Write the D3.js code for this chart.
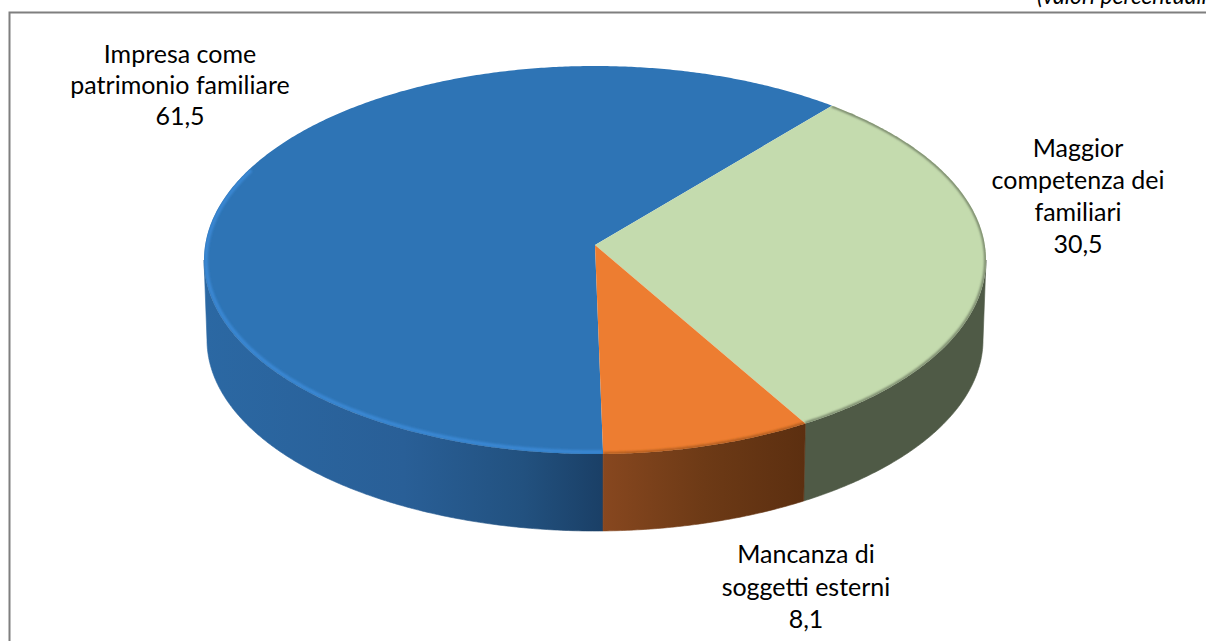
<!DOCTYPE html>
<html><head><meta charset="utf-8">
<script src="https://cdnjs.cloudflare.com/ajax/libs/d3/7.8.5/d3.min.js"></script>
<style>html,body{margin:0;background:#fff;overflow:hidden}svg{display:block}text{font-family:Lato,"Open Sans",sans-serif;fill:#000}</style>
</head><body><svg id="c" width="1206" height="641"></svg>
<script>
const categories = [["Impresa come","patrimonio familiare"],["Maggior","competenza dei","familiari"],["Mancanza di","soggetti esterni"]];
const values = [61.5,30.5,8.1];
const valueLabels = ["61,5","30,5","8,1"];
const unitNote = "(valori percentuali)";
const sliceColors = ["#2e74b5","#c4dbae","#ed7d31"];
const rimColors = ["#3b88d4","#6f7d63","#a9591f"];
const wallStops = [
  [["0","#2b68a3"],["0.5","#295f97"],["0.8","#22517f"],["1","#1a3f66"]],
  [["0","#4f5a46"],["1","#4f5a46"]],
  [["0","#87471f"],["0.5","#6d3a16"],["1","#5c2f10"]]
];
const labelAnchors = [[180,55],[1078,149],[806,555]];
const linePitch = [31,32,32.5];

const svg = d3.select("#c"), defs = svg.append("defs");
const blur = defs.append("filter").attr("id","soft").attr("x","-5%").attr("y","-5%").attr("width","110%").attr("height","110%");
blur.append("feGaussianBlur").attr("stdDeviation",1.1);

// frame
svg.append("path").attr("d","M9.5 641V12.5H1206").attr("fill","none").attr("stroke","#7f7f7f").attr("stroke-width",2);
svg.append("text").attr("x",1037).attr("y",4).attr("font-size",23).attr("font-style","italic").text(unitNote);

// perspective-projected disc: circle angle -> ellipse point
const tilt = -15/194;
const boost = Math.sqrt(1-tilt*tilt);
function project(e,a){
  const u=Math.sin(a), v=-Math.cos(a), d=1+tilt*v;
  return [e.cx+e.rx*u*boost/d, e.cy+e.ry*(v+tilt)/d];
}
const topE={cx:595,cy:260,rx:391,ry:194}, botE={cx:595,cy:340,rx:388,ry:191};
const rad=d3.scaleLinear().domain([0,180]).range([0,Math.PI]);
const pie=d3.pie().sort(null).startAngle(rad(178.9)).endAngle(rad(178.9+360));
const arcs=pie(values);
const line=d3.line();
const samples=(a,b)=>{const n=Math.max(2,Math.ceil(Math.abs(b-a)*120));return d3.range(n+1).map(i=>a+(b-a)*i/n);};
const frontA=Math.acos(tilt), frontB=2*Math.PI-frontA;

// visible wall pieces
arcs.forEach((s,i)=>{
  for(const k of [0,1]){
    const a=Math.max(s.startAngle-k*2*Math.PI,frontA), b=Math.min(s.endAngle-k*2*Math.PI,frontB);
    if(b<=a) continue;
    const A=samples(a,b);
    const pts=A.map(t=>project(topE,t)).concat(A.slice().reverse().map(t=>project(botE,t)));
    const xs=d3.extent(pts,p=>p[0]);
    const g=defs.append("linearGradient").attr("id","w"+i+k).attr("gradientUnits","userSpaceOnUse")
      .attr("x1",xs[0]).attr("x2",xs[1]).attr("y1",0).attr("y2",0);
    wallStops[i].forEach(st=>g.append("stop").attr("offset",st[0]).attr("stop-color",st[1]));
    svg.append("path").attr("d",line(pts)+"Z").attr("fill",`url(#w${i}${k})`)
      .attr("stroke",`url(#w${i}${k})`).attr("stroke-width",0.6);
  }
});
// top faces
const hub=[topE.cx, topE.cy+topE.ry*tilt];
arcs.forEach((s,i)=>{
  const pts=[hub].concat(samples(s.startAngle,s.endAngle).map(t=>project(topE,t)));
  svg.append("clipPath").attr("id","cp"+i).append("path").attr("d",line(pts)+"Z");
  svg.append("path").attr("d",line(pts)+"Z").attr("fill",sliceColors[i]);
});
// bevel rims
arcs.forEach((s,i)=>{
  const e=i===0?Math.min(s.endAngle,rad(178.9+115)):s.endAngle;
  const a0=i===1?Math.max(s.startAngle,rad(75)):s.startAngle;
  const inset={cx:topE.cx,cy:topE.cy,rx:topE.rx-(i===0?2:0.5),ry:topE.ry-(i===0?2:0.5)};
  svg.append("g").attr("clip-path",`url(#cp${i})`).append("path")
    .attr("d",line(samples(a0,e).map(t=>project(inset,t))))
    .attr("fill","none").attr("stroke",rimColors[i]).attr("stroke-width",i===0?3.5:2.5)
    .attr("filter","url(#soft)");
});
// labels
arcs.forEach((s,i)=>{
  const rows=categories[i].concat([valueLabels[i]]);
  const t=svg.append("text").attr("text-anchor","middle").attr("font-size",25);
  rows.forEach((r,j)=>t.append("tspan").attr("x",labelAnchors[i][0]).attr("y",labelAnchors[i][1]+8+j*linePitch[i]).text(r));
});
</script></body></html>
